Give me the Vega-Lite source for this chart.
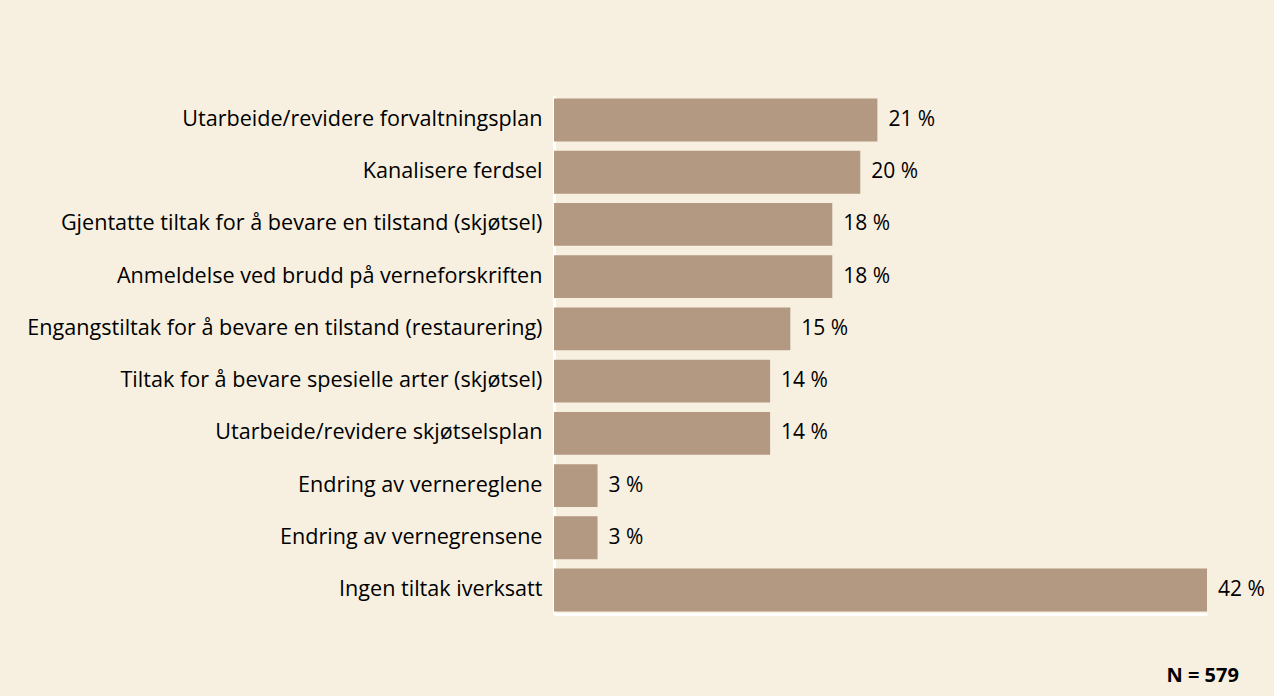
{
  "$schema": "https://vega.github.io/schema/vega-lite/v6.json",
  "autosize": {"type": "none"},
  "width": 653,
  "height": 518,
  "padding": {"left": 554, "top": 96, "right": 67, "bottom": 82},
  "background": "#f7f0e1",
  "config": {"view": {"stroke": null}, "font": "Open Sans"},
  "title": {"text": "N = 579", "orient": "bottom", "anchor": "end", "fontSize": 20, "fontWeight": "bold", "font": "Open Sans", "color": "#000000", "offset": 52, "dx": -26},
  "data": {"values": [
    {"tiltak": "Utarbeide/revidere forvaltningsplan", "andel": 20.8, "etikett": "21 %"},
    {"tiltak": "Kanalisere ferdsel", "andel": 19.7, "etikett": "20 %"},
    {"tiltak": "Gjentatte tiltak for å bevare en tilstand (skjøtsel)", "andel": 17.9, "etikett": "18 %"},
    {"tiltak": "Anmeldelse ved brudd på verneforskriften", "andel": 17.9, "etikett": "18 %"},
    {"tiltak": "Engangstiltak for å bevare en tilstand (restaurering)", "andel": 15.2, "etikett": "15 %"},
    {"tiltak": "Tiltak for å bevare spesielle arter (skjøtsel)", "andel": 13.9, "etikett": "14 %"},
    {"tiltak": "Utarbeide/revidere skjøtselsplan", "andel": 13.9, "etikett": "14 %"},
    {"tiltak": "Endring av vernereglene", "andel": 2.8, "etikett": "3 %"},
    {"tiltak": "Endring av vernegrensene", "andel": 2.8, "etikett": "3 %"},
    {"tiltak": "Ingen tiltak iverksatt", "andel": 42, "etikett": "42 %"}
  ]},
  "encoding": {
    "y": {"field": "tiltak", "type": "nominal", "sort": null,
      "scale": {"paddingInner": 0.18, "paddingOuter": 0.05},
      "axis": {"title": null, "domain": true, "domainColor": "#ffffff", "domainWidth": 3, "ticks": false, "labelPadding": 12, "labelFontSize": 21.6, "labelColor": "#000000", "labelFont": "Open Sans", "labelLimit": 600}},
    "x": {"field": "andel", "type": "quantitative",
      "scale": {"domain": [0, 42], "nice": false},
      "axis": {"title": null, "domain": true, "domainColor": "#ffffff", "domainWidth": 3, "ticks": false, "labels": false, "grid": false}}
  },
  "layer": [
    {"mark": {"type": "bar", "color": "#b39882"}},
    {"mark": {"type": "text", "align": "left", "baseline": "middle", "dx": 11, "fontSize": 21, "color": "#000000", "font": "Open Sans"},
     "encoding": {"text": {"field": "etikett"}}}
  ]
}
